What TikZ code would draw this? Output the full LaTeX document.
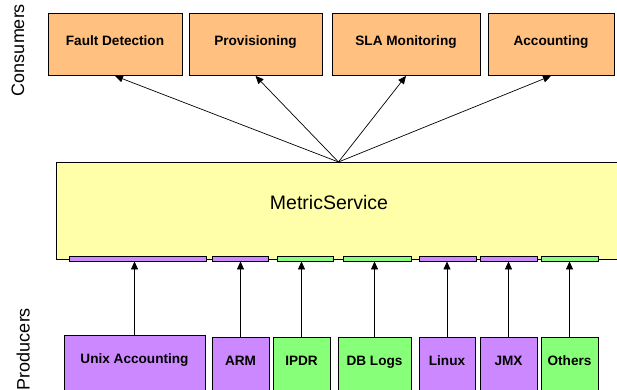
\documentclass[tikz,border=0pt]{standalone}
\usepackage{fontspec}
\setmainfont{Liberation Sans}
\usetikzlibrary{arrows.meta}

\definecolor{consorange}{RGB}{255,192,128}
\definecolor{svcyellow}{RGB}{255,255,170}
\definecolor{feedpurple}{RGB}{204,136,255}
\definecolor{feedgreen}{RGB}{136,255,120}

\begin{document}
\begin{tikzpicture}[x=1pt, y=-1pt, line width=0.9pt,
    box label/.style={font=\fontsize{13.6}{16}\selectfont\bfseries},
    consumer node/.style={draw, fill=consorange, anchor=north, inner sep=0pt,
                          text height=32pt, text depth=30pt, box label},
    producer node/.style={draw, fill=#1, anchor=north, inner sep=0pt,
                          text height=28pt, text depth=36pt, box label},
    port node/.style={draw, fill=#1, inner sep=0pt, minimum height=5pt},
    feed/.style={line width=0.7pt, -{Triangle[length=8pt,width=7pt]}}]

  \clip (0,0) rectangle (617,389);

  % side captions
  \node[rotate=90, anchor=base, font=\fontsize{18}{20}\selectfont] (cons) at (24,50) {Consumers};
  \node[rotate=90, anchor=base, font=\fontsize{18}{20}\selectfont] (prod) at (29.5,349) {Producers};

  % consumers
  \node[consumer node, minimum width=134pt] (fd)   at (115,13)   {Fault Detection};
  \node[consumer node, minimum width=133pt] (prov) at (255.5,13) {Provisioning};
  \node[consumer node, minimum width=148pt] (sla)  at (406,13)   {SLA Monitoring};
  \node[consumer node, minimum width=126pt] (acc)  at (551,13)   {Accounting};

  % the service and its input ports
  \node[draw, fill=svcyellow, anchor=north west, minimum width=580pt,
        minimum height=97pt, inner sep=0pt] (metric) at (56,162) {};
  \node[font=\fontsize{19.5}{22}\selectfont] (mslabel) at (329,203) {MetricService};
  \coordinate (hub) at ([xshift=-8pt]metric.north);

  \node[port node=feedpurple, minimum width=137pt] (uport) at (137.5,258.5) {};
  \node[port node=feedpurple, minimum width=56pt]  (aport) at (240,258.5)   {};
  \node[port node=feedgreen,  minimum width=56pt]  (iport) at (305,258.5)   {};
  \node[port node=feedgreen,  minimum width=68pt]  (dport) at (377,258.5)   {};
  \node[port node=feedpurple, minimum width=57pt]  (lport) at (447.5,258.5) {};
  \node[port node=feedpurple, minimum width=57pt]  (jport) at (508.5,258.5) {};
  \node[port node=feedgreen,  minimum width=57pt]  (oport) at (569.5,258.5) {};

  % producers
  \node[producer node=feedpurple, minimum width=141pt] (unix)   at (134.5,335) {Unix Accounting};
  \node[producer node=feedpurple, minimum width=57pt]  (arm)    at (240.5,337) {ARM};
  \node[producer node=feedgreen,  minimum width=57pt]  (ipdr)   at (301.5,337) {IPDR};
  \node[producer node=feedgreen,  minimum width=73pt]  (dblogs) at (374.5,337) {DB Logs};
  \node[producer node=feedpurple, minimum width=56pt]  (linux)  at (447,337)   {Linux};
  \node[producer node=feedpurple, minimum width=57pt]  (jmx)    at (508.5,337) {JMX};
  \node[producer node=feedgreen,  minimum width=57pt]  (others) at (569.5,337) {Others};

  % service feeds the consumers
  \foreach \c in {fd,prov,sla,acc}
    \draw[feed] (hub) -- (\c.south);

  % producers feed the ports
  \foreach \p/\q in {unix/uport,arm/aport,ipdr/iport,dblogs/dport,
                     linux/lport,jmx/jport,others/oport}
    \draw[feed] (\p.north) -- (\p.north |- \q.south);
\end{tikzpicture}
\end{document}
